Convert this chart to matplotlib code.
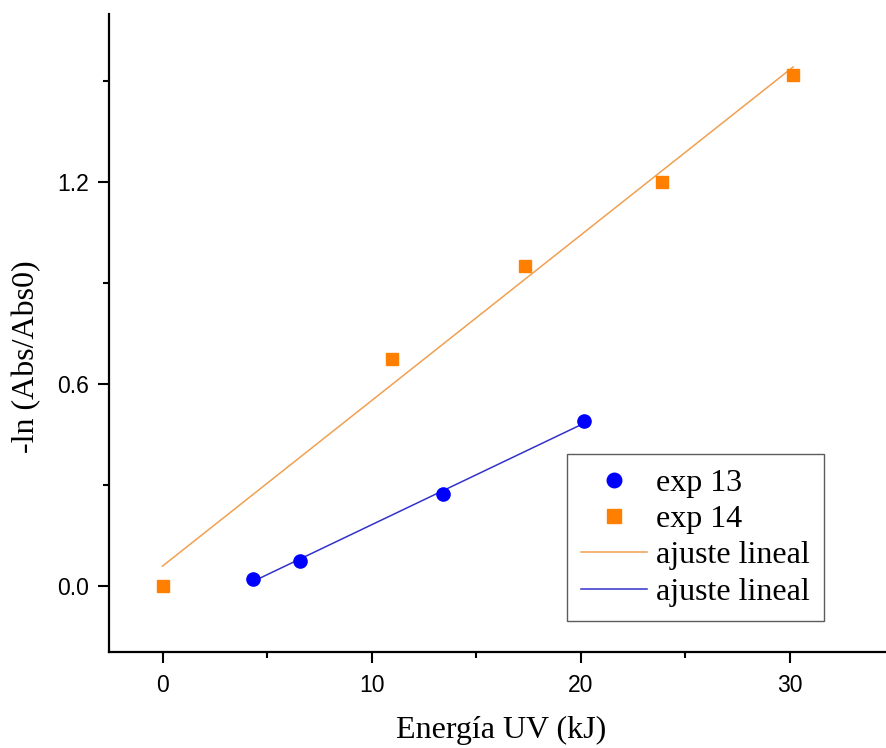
import numpy as np
import matplotlib
matplotlib.use("Agg")
import matplotlib.pyplot as plt
from matplotlib.ticker import MultipleLocator

# Data
x13 = [4.32, 6.57, 13.43, 20.15]
y13 = [0.021, 0.074, 0.272, 0.489]
x14 = [0.0, 10.96, 17.32, 23.87, 30.16]
y14 = [0.0, 0.672, 0.95, 1.199, 1.517]

label13 = "exp 13"
label14 = "exp 14"
fit_label = "ajuste lineal"
xlabel = "Energía UV (kJ)"
ylabel = "-ln (Abs/Abs0)"

orange = "#FF8000"
orange_line = "#F0A050"
blue = "#0000FF"
blue_line = "#3333CC"

fig = plt.figure(figsize=(8.86, 7.48), dpi=100)
ax = fig.add_axes([0.123, 0.128, 0.877, 0.853])

# linear fits
p14 = np.polyfit(x14, y14, 1)
p13 = np.polyfit(x13, y13, 1)
xf14 = np.array([min(x14), max(x14)])
xf13 = np.array([min(x13), max(x13)])

l_fit14, = ax.plot(xf14, np.polyval(p14, xf14), color=orange_line, lw=1.1, zorder=2)
l_fit13, = ax.plot(xf13, np.polyval(p13, xf13), color=blue_line, lw=1.1, zorder=2)
s13, = ax.plot(x13, y13, 'o', color=blue, ms=9.5, mec=blue, ls='none', zorder=3)
s14, = ax.plot(x14, y14, 's', color=orange, ms=9, mec=orange, ls='none', zorder=3)

ax.set_xlim(-2.56, 34.6)
ax.set_ylim(-0.198, 1.698)

ax.xaxis.set_major_locator(MultipleLocator(10))
ax.xaxis.set_minor_locator(MultipleLocator(5))
ax.yaxis.set_major_locator(MultipleLocator(0.6))
ax.yaxis.set_minor_locator(MultipleLocator(0.3))
ax.yaxis.set_major_formatter(matplotlib.ticker.FormatStrFormatter('%.1f'))

for s in ['top', 'right']:
    ax.spines[s].set_visible(False)
for s in ['left', 'bottom']:
    ax.spines[s].set_linewidth(1.6)

ax.tick_params(which='major', direction='out', length=8, width=1.5,
               labelsize=16.5)
ax.tick_params(axis='x', which='major', pad=8)
ax.tick_params(axis='y', which='major', pad=6.5)
ax.tick_params(which='minor', direction='out', length=4.5, width=1.5)
for lab in ax.get_xticklabels() + ax.get_yticklabels():
    lab.set_family('Liberation Sans')

ax.set_xlabel(xlabel, fontsize=23, family='Liberation Serif')
ax.set_ylabel(ylabel, fontsize=23, family='Liberation Serif')
ax.xaxis.set_label_coords(0.505, -0.10)
ax.yaxis.set_label_coords(-0.087, 0.464)

leg = ax.legend([s13, s14, l_fit14, l_fit13],
                [label13, label14, fit_label, fit_label],
                loc='lower left', bbox_to_anchor=(0.589, 0.0486),
                borderaxespad=0, fancybox=False, frameon=True,
                prop={'family': 'Liberation Serif', 'size': 23},
                handlelength=2.05, handletextpad=0.3, labelspacing=0.22,
                borderpad=0.45, edgecolor='#333333', markerscale=1.1)
leg.get_frame().set_linewidth(1.0)

fig.savefig("out.png", dpi=100)
